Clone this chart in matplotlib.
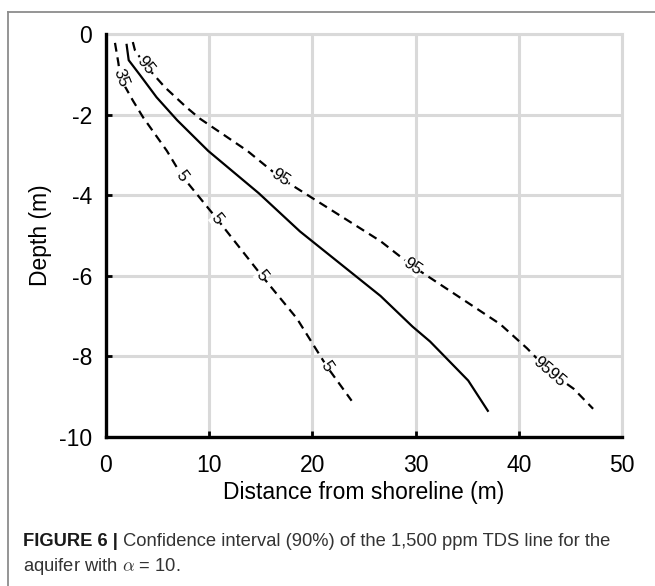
import numpy as np
import matplotlib
matplotlib.use("Agg")
import matplotlib.pyplot as plt
from matplotlib.lines import Line2D

# 1,500 ppm TDS line (distance from shoreline in m, depth in m)
mid_x = [2.0, 2.2, 3.3, 4.9, 6.9, 9.9, 14.8, 18.8, 26.6, 29.7, 31.4, 35.1, 37.0]
mid_depth = [-0.27, -0.65, -1.02, -1.57, -2.14, -2.9, -3.95, -4.9, -6.5, -7.26, -7.63, -8.6, -9.35]

# lower bound of the 90% interval
low_x = [0.87, 1.2, 1.4, 2.6, 3.6, 5.9, 7.36, 10.76, 15.1, 18.5, 21.4, 23.8]
low_depth = [-0.22, -0.72, -1.1, -1.65, -2.07, -2.9, -3.52, -4.59, -6.0, -7.06, -8.25, -9.1]

# upper bound of the 90% interval
high_x = [2.6, 2.8, 3.8, 5.7, 7.8, 9.1, 13.7, 16.9, 26.6, 29.7, 38.2, 40.8, 43.0, 45.3, 47.2]
high_depth = [-0.2, -0.4, -0.77, -1.32, -1.82, -2.1, -2.9, -3.57, -5.14, -5.76, -7.2, -7.8, -8.38, -8.8, -9.3]

# contour labels sitting on the dashed lines
low_labels = ["35", "5", "5", "5", "5"]
low_label_x = [1.4, 7.36, 10.76, 15.1, 21.4]
low_label_depth = [-1.1, -3.52, -4.59, -6.0, -8.25]
high_labels = ["95", "95", "95", "9595"]
high_label_x = [3.8, 16.9, 29.7, 43.0]
high_label_depth = [-0.77, -3.57, -5.76, -8.38]

x_ticks = [0, 10, 20, 30, 40, 50]
depth_ticks = [0, -2, -4, -6, -8, -10]

W, H = 655, 586

plt.rcParams["font.family"] = ["Liberation Sans", "DejaVu Sans"]
plt.rcParams["axes.unicode_minus"] = False
plt.rcParams["mathtext.fontset"] = "cm"


def _label_angle(ax, xs, ys, x0, y0):
    """Angle (deg, screen space) of the line near (x0, y0)."""
    pts = ax.transData.transform(np.column_stack([xs, ys]))
    p0 = ax.transData.transform((x0, y0))
    i = int(np.argmin(np.hypot(*(pts - p0).T)))
    j = min(i + 1, len(pts) - 1)
    k = max(i - 1, 0)
    dx, dy = pts[j] - pts[k]
    return np.degrees(np.arctan2(dy, dx))


fig = plt.figure(figsize=(W / 100, H / 100), dpi=100)
ax = fig.add_axes([106 / W, 1 - 437 / H, (622 - 106) / W, (437 - 34) / H])
ax.set_xlim(0, 50)
ax.set_ylim(-10, 0)

grid_c = "#d9d9d9"
ax.grid(True, color=grid_c, lw=2.2)
ax.set_axisbelow(True)
for side in ("top", "right"):
    ax.spines[side].set_color(grid_c)
    ax.spines[side].set_linewidth(2.2)
for side in ("left", "bottom"):
    ax.spines[side].set_color("black")
    ax.spines[side].set_linewidth(2.4)
    ax.spines[side].set_zorder(3)

ax.set_xticks(x_ticks)
ax.set_yticks(depth_ticks)
ax.tick_params(direction="in", length=4, width=2, labelsize=16.5, pad=10,
               top=False, right=False)
ax.tick_params(axis="x", pad=12)
ax.set_xlabel("Distance from shoreline (m)", fontsize=16.5, labelpad=3)
ax.set_ylabel("Depth (m)", fontsize=16.5, labelpad=5)

dash = (4, 2.6)
ax.plot(mid_x, mid_depth, color="black", lw=1.6)
ax.plot(low_x, low_depth, color="black", lw=1.6, ls=(0, dash))
ax.plot(high_x, high_depth, color="black", lw=1.6, ls=(0, dash))

for txt, x0, y0 in zip(low_labels, low_label_x, low_label_depth):
    ang = _label_angle(ax, low_x, low_depth, x0, y0)
    ax.text(x0, y0, txt, rotation=ang, rotation_mode="anchor", ha="center", va="center",
            fontsize=12, bbox=dict(fc="white", ec="none", pad=0.2), zorder=4)
for txt, x0, y0 in zip(high_labels, high_label_x, high_label_depth):
    ang = _label_angle(ax, high_x, high_depth, x0, y0)
    ax.text(x0, y0, txt, rotation=ang, rotation_mode="anchor", ha="center", va="center",
            fontsize=12, bbox=dict(fc="white", ec="none", pad=0.2), zorder=4)

# page frame (top and left rules)
frame_c = "#8c8c8c"
fig.add_artist(Line2D([8 / W, 1], [1 - 12 / H, 1 - 12 / H], transform=fig.transFigure,
                      color=frame_c, lw=1.3))
fig.add_artist(Line2D([8 / W, 8 / W], [0, 1 - 12 / H], transform=fig.transFigure,
                      color=frame_c, lw=1.3))

# caption
cap_c = "#333333"
t1 = fig.text(23 / W, 1 - 550 / H, "FIGURE 6 |", fontsize=13.2, weight="bold",
              color="#1a1a1a", va="bottom")
ax.annotate(" Confidence interval (90%) of the 1,500 ppm TDS line for the",
            xy=(1, 0), xycoords=t1, va="bottom", ha="left", fontsize=13.2,
            color=cap_c, annotation_clip=False)
fig.text(23 / W, 1 - 577 / H, r"aquifer with $\alpha$ = 10.", fontsize=13.2,
         color=cap_c, va="bottom")

plt.savefig("out.png", dpi=100)
plt.close()
